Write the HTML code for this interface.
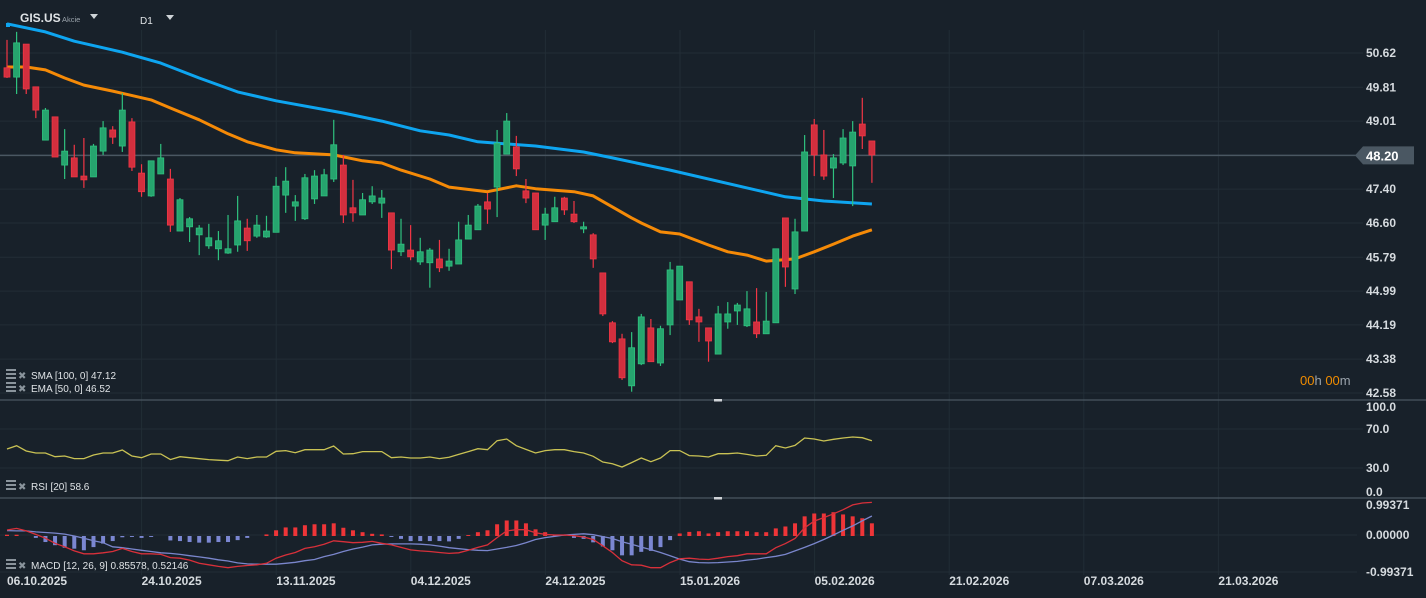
<!DOCTYPE html>
<html><head><meta charset="utf-8">
<style>
html,body{margin:0;padding:0;background:#18212a;}
svg{display:block;font-family:"Liberation Sans",sans-serif;}
</style></head>
<body>
<svg id="chart" width="1426" height="598" viewBox="0 0 1426 598" xmlns="http://www.w3.org/2000/svg">
<rect x="0" y="0" width="1426" height="598" fill="#18212a"/>
<g id="grid"></g>
<g id="main"></g>
<g id="rsi"></g>
<g id="macd"></g>
<g id="axes"></g>

<g>
<rect x="6" y="23" width="4" height="4" fill="#0ea5f0"/>
<text x="20" y="22" font-size="12" font-weight="bold" fill="#dfe3e6">GIS.US</text>
<text x="62" y="22" font-size="7.5" fill="#9aa3ab">Akcie</text>
<polygon points="90,14 98,14 94,19" fill="#cfd4d8"/>
<text x="140" y="24" font-size="10" fill="#dfe3e6">D1</text>
<polygon points="166,15 174,15 170,20" fill="#cfd4d8"/>
</g>

<g font-size="10" fill="#dfe3e6">
<g><rect x="6" y="369" width="10" height="2" fill="#8a949c"/><rect x="6" y="373" width="10" height="2" fill="#8a949c"/><rect x="6" y="377" width="10" height="2" fill="#8a949c"/><text x="18" y="379" font-size="10" fill="#8a949c">✖</text><text x="31" y="379">SMA [100,  0] 47.12</text></g>
<g><rect x="6" y="382" width="10" height="2" fill="#8a949c"/><rect x="6" y="386" width="10" height="2" fill="#8a949c"/><rect x="6" y="390" width="10" height="2" fill="#8a949c"/><text x="18" y="392" font-size="10" fill="#8a949c">✖</text><text x="31" y="392">EMA [50,  0] 46.52</text></g>
<g><rect x="6" y="480" width="10" height="2" fill="#8a949c"/><rect x="6" y="484" width="10" height="2" fill="#8a949c"/><rect x="6" y="488" width="10" height="2" fill="#8a949c"/><text x="18" y="490" font-size="10" fill="#8a949c">✖</text><text x="31" y="490">RSI [20]  58.6</text></g>
<g><rect x="6" y="559" width="10" height="2" fill="#8a949c"/><rect x="6" y="563" width="10" height="2" fill="#8a949c"/><rect x="6" y="567" width="10" height="2" fill="#8a949c"/><text x="18" y="569" font-size="10" fill="#8a949c">✖</text><text x="31" y="569">MACD [12, 26, 9] 0.85578,  0.52146</text></g>
</g>

<text x="1300" y="385" font-size="13"><tspan fill="#f08c00">00</tspan><tspan fill="#9aa3ab">h </tspan><tspan fill="#f08c00">00</tspan><tspan fill="#9aa3ab">m</tspan></text>
</svg>

<script>
// ---- price data (OHLC per trading day) ----
const opens  = [50.27,50.05,50.83,49.82,48.56,49.11,47.97,48.14,47.71,47.69,48.30,48.80,48.42,48.99,47.78,47.24,47.76,47.64,46.41,46.51,46.32,46.06,45.99,45.89,46.08,46.48,46.29,46.27,46.38,47.26,47.00,46.70,47.17,47.24,47.64,47.97,46.96,46.79,47.10,47.07,46.84,45.92,45.96,45.68,45.66,45.75,45.58,45.63,46.22,46.44,47.10,47.45,48.23,48.40,47.36,47.31,46.55,46.63,47.19,46.81,46.46,46.32,45.42,44.24,43.86,42.75,43.27,44.12,43.29,44.19,44.78,45.21,44.38,44.12,43.50,44.26,44.52,44.17,44.26,43.98,44.24,46.72,45.04,46.41,48.92,48.21,47.90,48.02,47.95,48.94,48.54];
const highs  = [50.93,51.12,50.83,49.82,49.32,49.11,48.82,48.45,48.61,48.47,49.01,48.89,49.67,49.08,47.99,48.07,48.47,47.88,47.19,46.74,46.55,46.58,46.41,46.79,47.24,46.70,46.79,46.77,47.69,47.92,47.26,47.76,47.85,47.88,49.04,48.21,47.62,47.31,47.47,47.38,46.84,46.70,46.55,46.25,46.01,46.20,45.99,46.63,46.79,47.05,47.31,48.80,49.20,48.66,47.64,47.31,46.96,47.22,47.22,47.12,46.63,46.36,45.42,44.28,43.98,44.02,44.45,44.33,44.17,45.68,45.58,45.21,44.57,44.12,44.64,44.73,44.71,44.99,45.06,44.97,45.99,46.72,46.70,48.68,49.06,48.80,48.23,48.82,49.01,49.56,48.54];
const lows   = [50.03,49.65,49.65,49.08,48.56,48.16,47.64,47.69,47.43,47.69,48.21,48.47,48.28,47.83,47.22,47.22,47.76,46.39,46.41,46.15,45.84,45.99,45.72,45.87,45.92,45.94,46.25,46.25,46.38,46.84,46.65,46.67,47.05,47.24,47.57,46.60,46.63,46.79,47.05,46.72,45.51,45.82,45.72,45.61,45.07,45.44,45.47,45.63,46.22,46.44,46.58,46.74,48.23,47.71,47.07,46.44,46.20,46.63,46.79,46.60,46.36,45.54,44.40,43.76,42.89,42.61,43.24,43.32,43.22,43.95,44.78,44.19,43.79,43.32,43.50,44.10,44.19,44.14,43.88,43.98,44.24,45.09,44.92,46.41,47.71,47.62,47.19,47.97,47.00,48.35,47.55];
const closes = [50.05,50.86,49.77,49.27,49.27,48.16,48.30,47.69,47.62,48.42,48.85,48.63,49.27,47.92,47.34,48.07,48.14,46.55,47.15,46.70,46.48,46.25,46.18,45.99,46.65,46.18,46.55,46.41,47.47,47.59,47.10,47.67,47.71,47.74,48.45,46.79,46.84,47.15,47.24,47.19,45.96,46.10,45.80,45.92,45.96,45.54,45.70,46.20,46.55,47.00,46.93,48.49,49.01,47.88,47.19,46.44,46.81,46.96,46.91,46.63,46.51,45.75,44.45,43.79,42.94,43.65,44.38,43.32,44.10,45.49,45.58,44.31,44.26,43.81,44.45,44.45,44.66,44.57,43.98,44.28,45.99,45.56,46.39,48.28,48.21,47.71,48.14,48.61,48.75,48.66,48.21];
// moving averages (sampled at day index)
const smaIdx = [0,4,7,12,16,20,24,28,35,39,43,46,49,55,60,63,69,77,81,85,90];
const smaVal = [51.31,51.12,50.90,50.64,50.38,50.03,49.70,49.49,49.20,49.01,48.78,48.68,48.52,48.42,48.28,48.14,47.85,47.43,47.22,47.12,47.05];
const emaIdx = [0,2,4,6,8,11,15,17,20,23,25,28,30,34,37,39,41,44,46,50,53,55,59,61,63,65,66,68,70,73,75,77,79,82,84,86,88,90];
const emaVal = [50.29,50.29,50.22,50.03,49.86,49.72,49.51,49.32,49.04,48.71,48.52,48.33,48.26,48.21,48.07,48.02,47.85,47.64,47.45,47.34,47.48,47.41,47.34,47.24,46.98,46.72,46.60,46.39,46.34,46.08,45.92,45.84,45.70,45.75,45.92,46.10,46.29,46.44];
const lastPrice = 48.20;
// RSI
const rsiVals = [49.5,52.9,47.4,45.4,45.4,41.6,42.3,39.6,39.6,43.3,45.4,45.4,48.5,42.3,40.6,44.4,44.4,38.6,41.6,40.6,39.5,38.6,38.0,37.5,41.3,39.6,41.3,41.3,47.1,47.8,45.7,48.8,48.8,48.8,52.6,44.4,44.7,46.8,46.8,46.8,40.6,41.3,40.3,40.3,41.3,39.6,41.0,44.0,46.8,49.8,48.8,58.0,59.7,52.9,49.1,45.4,47.8,48.8,48.8,46.8,45.4,42.0,36.2,34.4,31.0,35.5,40.3,36.5,40.3,47.8,47.8,42.7,42.3,41.3,44.7,44.7,45.4,44.0,42.3,43.0,52.9,50.5,53.2,60.8,59.7,57.7,59.4,60.8,61.8,61.1,58.0];
// MACD
const macdLine = [0.19,0.24,0.16,0.05,-0.07,-0.23,-0.34,-0.47,-0.56,-0.56,-0.53,-0.49,-0.39,-0.49,-0.56,-0.56,-0.58,-0.68,-0.70,-0.76,-0.86,-0.91,-0.96,-1.00,-0.96,-0.93,-0.91,-0.86,-0.70,-0.60,-0.52,-0.39,-0.34,-0.26,-0.15,-0.18,-0.21,-0.20,-0.17,-0.23,-0.28,-0.36,-0.44,-0.47,-0.49,-0.52,-0.55,-0.53,-0.45,-0.36,-0.28,-0.05,0.16,0.20,0.20,0.10,0.05,0.03,0.03,0.01,-0.03,-0.11,-0.31,-0.52,-0.78,-0.91,-0.92,-1.00,-1.00,-0.84,-0.72,-0.70,-0.73,-0.74,-0.70,-0.65,-0.62,-0.56,-0.56,-0.56,-0.37,-0.24,-0.08,0.26,0.47,0.58,0.70,0.83,0.98,1.04,1.06];
const signalLine = [0.17,0.16,0.16,0.13,0.11,0.09,0.06,0.00,-0.07,-0.15,-0.21,-0.34,-0.37,-0.41,-0.45,-0.49,-0.53,-0.55,-0.58,-0.62,-0.66,-0.70,-0.75,-0.79,-0.85,-0.88,-0.89,-0.89,-0.89,-0.86,-0.83,-0.78,-0.74,-0.65,-0.58,-0.49,-0.41,-0.35,-0.28,-0.26,-0.25,-0.25,-0.25,-0.26,-0.28,-0.32,-0.37,-0.40,-0.43,-0.45,-0.46,-0.41,-0.36,-0.30,-0.21,-0.11,-0.05,-0.01,0.03,0.05,0.07,0.04,-0.02,-0.08,-0.18,-0.26,-0.35,-0.43,-0.52,-0.62,-0.73,-0.81,-0.84,-0.85,-0.84,-0.82,-0.80,-0.76,-0.73,-0.68,-0.64,-0.58,-0.47,-0.36,-0.24,-0.11,0.03,0.18,0.32,0.48,0.63];
const histVals = [0.04,0.04,0,-0.06,-0.19,-0.29,-0.37,-0.40,-0.45,-0.35,-0.24,-0.16,-0.04,-0.03,-0.06,-0.03,0,-0.14,-0.16,-0.19,-0.21,-0.21,-0.19,-0.19,-0.13,-0.06,0,0.05,0.18,0.27,0.27,0.34,0.37,0.37,0.40,0.26,0.18,0.12,0.07,0.05,-0.03,-0.09,-0.16,-0.16,-0.16,-0.16,-0.17,-0.09,0.03,0.12,0.18,0.37,0.49,0.49,0.40,0.21,0.12,0.04,0.01,-0.06,-0.09,-0.20,-0.33,-0.45,-0.61,-0.61,-0.50,-0.47,-0.35,-0.13,0.08,0.13,0.15,0.08,0.12,0.15,0.15,0.15,0.12,0.12,0.24,0.30,0.40,0.62,0.71,0.71,0.75,0.68,0.62,0.56,0.40];
// axis labels
const priceTicks = ["50.62","49.81","49.01","48.20","47.40","46.60","45.79","44.99","44.19","43.38","42.58"];
const rsiTicks = [["100.0",100],["70.0",70],["30.0",30],["0.0",0]];
const macdTicks = [["0.99371",0.99371],["0.00000",0],["-0.99371",-0.99371]];
const dateTicks = ["06.10.2025","24.10.2025","13.11.2025","04.12.2025","24.12.2025","15.01.2026","05.02.2026","21.02.2026","07.03.2026","21.03.2026"];

// ---- axis functions ----
const NS="http://www.w3.org/2000/svg";
const xOf = i => 7 + i*9.61;
const priceTop = 50.62, priceBot = 42.58;
const yP = p => 53 + (priceTop - p) * (340/(priceTop-priceBot));
const yR = r => 429 + (70 - r) * 0.975;
const yM = v => 536 - v * 31.7;
function mk(tag, attrs, parent){const e=document.createElementNS(NS,tag);for(const k in attrs)e.setAttribute(k,attrs[k]);parent.appendChild(e);return e;}

const grid=document.getElementById('grid'), main=document.getElementById('main'), rsiG=document.getElementById('rsi'), macdG=document.getElementById('macd'), axes=document.getElementById('axes');

// vertical grid + date labels
dateTicks.forEach((d,k)=>{
  const x = 7 + k*134.6;
  if(k>0){const l=mk('line',{x1:x,x2:x,y1:30,y2:575,stroke:'#222d36','stroke-width':1},grid);
  
  }
  const t=mk('text',{x:x,y:585,'font-size':12,'font-weight':'bold',fill:'#d6dbdf'},axes);
  t.textContent=d;
  
  
});
// price grid + labels
priceTicks.forEach((s,k)=>{
  const y = yP(parseFloat(s));
  const l=mk('line',{x1:0,x2:1363,y1:y,y2:y,stroke:'#222d36','stroke-width':1},grid);
  
  
  if(s!==String(lastPrice.toFixed(2))){
    const t=mk('text',{x:1366,y:y+4,'font-size':12,'font-weight':'bold',fill:'#d6dbdf'},axes);
    t.textContent=s;
    
    
  }
});
// rsi grid + labels
rsiTicks.forEach(([s,v])=>{
  const y=yR(v);
  if(v===70||v===30){const l=mk('line',{x1:0,x2:1363,y1:y,y2:y,stroke:'#222d36'},grid);
  
  }
  const ty = v===100?411:(v===0?496:y+4);
  const t=mk('text',{x:1366,y:ty,'font-size':12,'font-weight':'bold',fill:'#d6dbdf'},axes);
  t.textContent=s;
  
  
});
macdTicks.forEach(([s,v])=>{
  const y = v===0?535:(v>0?505:572);
  if(v<=0){const l=mk('line',{x1:0,x2:1357,y1:y,y2:y,stroke:'#222d36'},grid);
  
  }
  const t=mk('text',{x:1366,y:y+4,'font-size':12,'font-weight':'bold',fill:'#d6dbdf'},axes);
  t.textContent=s;
  
  
});
// pane separators
[400,498].forEach(y=>{
  const l=mk('line',{x1:0,x2:1426,y1:y,y2:y,stroke:'#4a5762','stroke-width':1.2},axes);
  
  
  const h=mk('rect',{x:714,y:y-1,width:8,height:2.5,fill:'#d0d4d8'},axes);
  
  
});

// current price line
{
  const y=yP(lastPrice);
  const l=mk('line',{x1:0,x2:1358,y1:y,y2:y,stroke:'#4a5762','stroke-width':1.5},main);
  
  
  const b=mk('polygon',{points:`1355,${y} 1363,${y-9} 1414,${y-9} 1414,${y+9} 1363,${y+9}`,fill:'#4a5762'},axes);
  
  
  const t=mk('text',{x:1366,y:y+5,'font-size':13,'font-weight':'bold',fill:'#ffffff'},axes);
  t.textContent=lastPrice.toFixed(2);
  
  
}

// moving averages
function maPath(idx,val){return idx.map((i,k)=>(k?'L':'M')+xOf(i).toFixed(1)+','+yP(val[k]).toFixed(1)).join(' ');}
{
  const e=mk('path',{d:maPath(emaIdx,emaVal),fill:'none',stroke:'#f58a07','stroke-width':3,'stroke-linejoin':'round'},main);
  
  
  const s=mk('path',{d:maPath(smaIdx,smaVal),fill:'none',stroke:'#0ea5f0','stroke-width':3,'stroke-linejoin':'round'},main);
  
  
}
// candles
opens.forEach((o,i)=>{
  const c=closes[i], up=c>=o, x=xOf(i);
  const fill=up?'#26a46e':'#d22f3e', strk=up?'#2fc27f':'#f23645';
  const g=mk('g',{},main);
  
  
  mk('line',{x1:x,x2:x,y1:yP(highs[i]),y2:yP(lows[i]),stroke:strk,'stroke-width':1.2},g);
  const top=yP(Math.max(o,c)), bot=yP(Math.min(o,c));
  mk('rect',{x:x-3,y:top,width:6,height:Math.max(1.5,bot-top),fill:fill,stroke:strk,'stroke-width':0.8},g);
});

// RSI line
{
  const d=rsiVals.map((v,i)=>(i?'L':'M')+xOf(i).toFixed(1)+','+yR(v).toFixed(1)).join(' ');
  const p=mk('path',{d:d,fill:'none',stroke:'#c9c254','stroke-width':1.3},rsiG);
  
  
}
// MACD histogram
histVals.forEach((v,i)=>{
  if(v===0)return;
  const y0=yM(0), y1=yM(v);
  const r=mk('rect',{x:xOf(i)-2,y:Math.min(y0,y1),width:4,height:Math.abs(y1-y0),fill:v>0?'#ee3538':'#7b87d2'},macdG);
  
  
});
{
  const s=mk('path',{d:signalLine.map((v,i)=>(i?'L':'M')+xOf(i).toFixed(1)+','+yM(v).toFixed(1)).join(' '),fill:'none',stroke:'#7a86cc','stroke-width':1.3},macdG);
  
  
  const m=mk('path',{d:macdLine.map((v,i)=>(i?'L':'M')+xOf(i).toFixed(1)+','+yM(v).toFixed(1)).join(' '),fill:'none',stroke:'#d8303a','stroke-width':1.3},macdG);
  
  
}
</script>
</body></html>
